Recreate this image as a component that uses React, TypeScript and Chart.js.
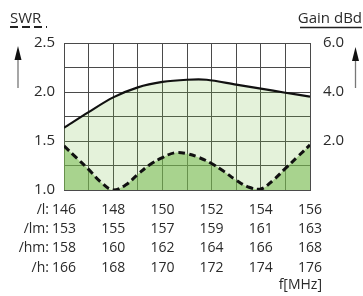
import React, { useEffect, useRef } from 'react';
import { Chart, registerables } from 'chart.js';

Chart.register(...registerables);

// SWR curve (left axis), read at half-MHz steps
const swrFreqs = [146, 146.5, 147, 147.5, 148, 148.5, 149, 149.5, 150, 150.5, 151, 151.5, 152, 152.5, 153, 153.5, 154, 154.5, 155, 155.5, 156];
const swrValues = [1.45, 1.33, 1.21, 1.08, 1.0, 1.05, 1.16, 1.26, 1.33, 1.38, 1.37, 1.33, 1.27, 1.19, 1.1, 1.03, 1.01, 1.1, 1.22, 1.34, 1.46];

// Gain curve (right axis, dBd)
const gainFreqs = [146, 147, 148, 149, 150, 151, 151.8, 153, 154, 155, 156];
const gainValues = [2.54, 3.18, 3.78, 4.19, 4.41, 4.5, 4.5, 4.3, 4.14, 3.97, 3.81];

// Band frequency tick rows
const bandNames = ['/l:', '/lm:', '/hm:', '/h:'];
const freqL = [146, 148, 150, 152, 154, 156];
const freqLM = [153, 155, 157, 159, 161, 163];
const freqHM = [158, 160, 162, 164, 166, 168];
const freqH = [166, 168, 170, 172, 174, 176];

const swrTicks = [1.0, 1.5, 2.0, 2.5];
const gainTicks = [2, 4, 6];

const FONT = '"Open Sans", "Noto Sans", sans-serif';
const TEXT = '#2a2a2a';
const GRID = '#4a4a4a';
const LINE_H = 19.4;
const X_PAD = 10;

const decor = {
  id: 'decor',
  afterDraw(chart: any) {
    const ctx = chart.ctx as CanvasRenderingContext2D;
    const xs = chart.scales.x;
    ctx.save();
    ctx.fillStyle = TEXT;
    ctx.font = `14px ${FONT}`;
    ctx.textAlign = 'right';
    ctx.textBaseline = 'middle';
    bandNames.forEach((n, i) => {
      ctx.fillText(n, xs.left - 15, xs.top + X_PAD + LINE_H * (i + 0.5));
    });
    ctx.fillText('f[MHz]', xs.right + 12, xs.top + X_PAD + LINE_H * 4 + 7);

    // axis titles
    ctx.font = `15px ${FONT}`;
    ctx.textAlign = 'left';
    ctx.fillText('SWR', 10, 19);
    ctx.textAlign = 'right';
    ctx.fillText('Gain dBd', 362, 19);

    ctx.strokeStyle = '#222';
    ctx.lineWidth = 2;
    ctx.setLineDash([8, 4]);
    ctx.beginPath();
    ctx.moveTo(10, 27);
    ctx.lineTo(47, 27);
    ctx.stroke();
    ctx.setLineDash([]);
    ctx.lineWidth = 1.5;
    ctx.beginPath();
    ctx.moveTo(300, 27.5);
    ctx.lineTo(362, 27.5);
    ctx.stroke();

    // arrows
    const arrow = (x: number, tip: number, bottom: number) => {
      ctx.strokeStyle = '#777';
      ctx.lineWidth = 1.3;
      ctx.beginPath();
      ctx.moveTo(x, bottom);
      ctx.lineTo(x, tip + 10);
      ctx.stroke();
      ctx.fillStyle = '#111';
      ctx.beginPath();
      ctx.moveTo(x, tip);
      ctx.lineTo(x - 3.5, tip + 14);
      ctx.lineTo(x + 3.5, tip + 14);
      ctx.closePath();
      ctx.fill();
    };
    arrow(18, 46, 88);
    arrow(355.5, 47, 88);
    ctx.restore();
  },
};

export default function App() {
  const ref = useRef<HTMLCanvasElement | null>(null);
  useEffect(() => {
    if (!ref.current) return;
    const chart = new Chart(ref.current, {
      type: 'line',
      data: {
        datasets: [
          {
            label: 'SWR',
            data: swrFreqs.map((f, i) => ({ x: f, y: swrValues[i] })),
            yAxisID: 'y',
            borderColor: '#111',
            borderWidth: 3,
            borderDash: [7, 4],
            backgroundColor: 'rgba(120,185,80,0.55)',
            fill: 'start',
            pointRadius: 0,
            tension: 0.4,
          },
          {
            label: 'Gain',
            data: gainFreqs.map((f, i) => ({ x: f, y: gainValues[i] })),
            yAxisID: 'y2',
            borderColor: '#111',
            borderWidth: 2.2,
            backgroundColor: 'rgba(120,190,70,0.2)',
            fill: 'start',
            pointRadius: 0,
            tension: 0.3,
          },
        ],
      },
      options: {
        responsive: false,
        animation: false,
        devicePixelRatio: 1,
        layout: { padding: { top: 43, left: 0, right: 0, bottom: 0 } },
        plugins: { legend: { display: false }, tooltip: { enabled: false } },
        scales: {
          x: {
            type: 'linear',
            min: 146,
            max: 156,
            afterFit: (s: any) => { s.height = 106; },
            grid: { color: GRID, lineWidth: 1, drawTicks: false },
            border: { color: GRID },
            ticks: {
              stepSize: 1,
              autoSkip: false,
              maxRotation: 0,
              padding: X_PAD,
              color: TEXT,
              font: { family: FONT, size: 14, lineHeight: LINE_H / 14 },
              callback: (v: any) => {
                const i = freqL.indexOf(Number(v));
                if (i < 0) return '';
                return [String(freqL[i]), String(freqLM[i]), String(freqHM[i]), String(freqH[i])];
              },
            },
          },
          y: {
            position: 'left',
            min: 1.0,
            max: 2.5,
            afterFit: (s: any) => { s.width = 64; },
            grid: { color: GRID, lineWidth: 1, drawTicks: false },
            border: { color: GRID },
            ticks: {
              stepSize: 0.25,
              padding: 9,
              color: TEXT,
              font: { family: FONT, size: 15 },
              callback: (v: any) => {
                const n = Number(v);
                return swrTicks.some((t) => Math.abs(t - n) < 1e-6) ? n.toFixed(1) : '';
              },
            },
          },
          y2: {
            position: 'right',
            min: 0,
            max: 6,
            afterFit: (s: any) => { s.width = 53; },
            grid: { display: false, drawTicks: false },
            border: { color: GRID },
            ticks: {
              stepSize: 1,
              padding: 13,
              color: TEXT,
              font: { family: FONT, size: 15 },
              callback: (v: any) => {
                const n = Number(v);
                return gainTicks.some((t) => Math.abs(t - n) < 1e-6) ? n.toFixed(1) : '';
              },
            },
          },
        },
      },
      plugins: [decor],
    });
    return () => chart.destroy();
  }, []);
  return (
    <div style={{ position: 'absolute', left: 0, top: 0, width: 363, height: 296, background: '#fff' }}>
      <canvas ref={ref} width={363} height={296} style={{ width: 363, height: 296 }} />
    </div>
  );
}
